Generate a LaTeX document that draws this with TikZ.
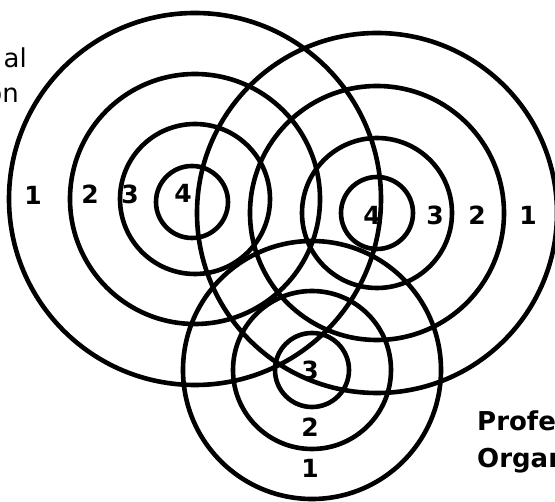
\documentclass[tikz,border=0pt]{standalone}
\usepackage{fontspec}
\setmainfont{DejaVu Sans}
\begin{document}
\begin{tikzpicture}[x=1pt,y=-1pt,
  ring/.style={draw=black,line width=4.6pt},
  num/.style={font=\fontsize{25}{29}\selectfont\bfseries,inner sep=0pt},
  captext/.style={font=\fontsize{26}{30}\selectfont,inner sep=0pt,anchor=base east},
  bcaptext/.style={font=\fontsize{26}{30}\selectfont\bfseries,inner sep=0pt,anchor=base west}]
\useasboundingbox (0,0) rectangle (555,502);
\coordinate (L) at (195,199);
\coordinate (R) at (377,213);
\coordinate (B) at (312,370);
% left set
\draw[ring] (L) circle[radius=186];
\draw[ring] (L) circle[radius=125];
\draw[ring] (L) circle[radius=75];
\draw[ring] (192,202) circle[radius=36];
% right set
\draw[ring] (R) circle[radius=180];
\draw[ring] (R) circle[radius=127];
\draw[ring] (R) circle[radius=75];
\draw[ring] (R) circle[radius=36];
% bottom set
\draw[ring] (B) circle[radius=129];
\draw[ring] (B) circle[radius=79];
\draw[ring] (B) circle[radius=37];
% labels
\node[num] (l1) at (33,195) {1};
\node[num] (l2) at (90,194) {2};
\node[num] (l3) at (130,194) {3};
\node[num] (l4) at (183,193) {4};
\node[num] (r4) at (372,215) {4};
\node[num] (r3) at (435,215) {3};
\node[num] (r2) at (477,215) {2};
\node[num] (r1) at (528,215) {1};
\node[num] (b3) at (310,370) {3};
\node[num] (b2) at (310,427) {2};
\node[num] (b1) at (310,468) {1};
\node[captext] (t1) at (27,68) {al};
\node[captext] (t2) at (19,103) {on};
\node[bcaptext] (t3) at (477,431) {Profe};
\node[bcaptext] (t4) at (477,468) {Organ};
\end{tikzpicture}
\end{document}
